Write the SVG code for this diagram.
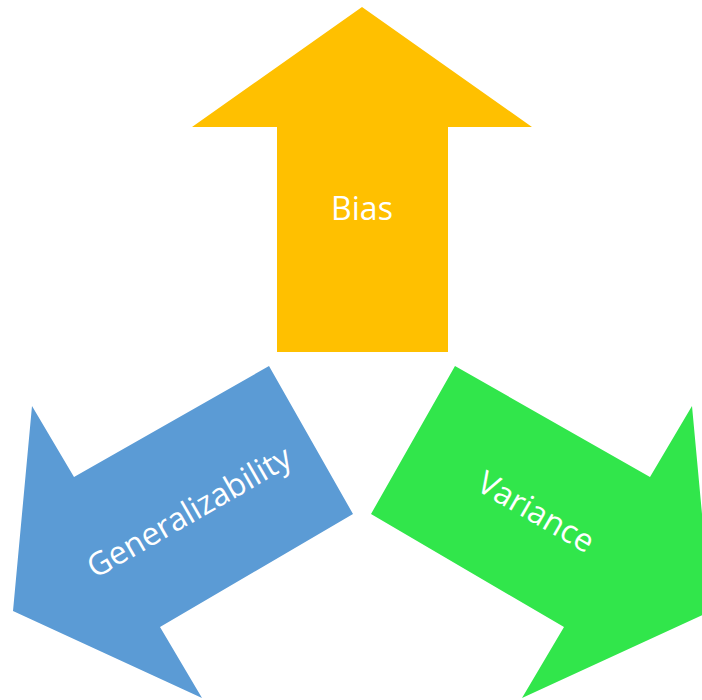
<svg xmlns="http://www.w3.org/2000/svg" width="702" height="700" viewBox="0 0 702 700">
<style>
.lbl{font-family:"Open Sans","Noto Sans","DejaVu Sans",sans-serif;font-size:32px;fill:#ffffff;text-anchor:middle}
</style>
<rect width="702" height="700" fill="#ffffff"/>
<g id="bias">
<polygon points="362,7 532,127 448,127 448,352 277,352 277,127 192,127" fill="#FFC000"/>
<text class="lbl" x="362" y="220">Bias</text>
</g>
<g id="generalizability">
<polygon points="269,366 353,514 160,627 202,698 13,611 32,406 74,477" fill="#5B9BD5"/>
<text class="lbl" transform="translate(189,512) rotate(-30)" x="0" y="11">Generalizability</text>
</g>
<g id="variance">
<polygon points="455,366 371,514 564,627 522,698 711,611 692,406 650,477" fill="#31E64B"/>
<text class="lbl" transform="translate(536,512) rotate(30)" x="0" y="11">Variance</text>
</g>
<g id="connectors"/>
</svg>
